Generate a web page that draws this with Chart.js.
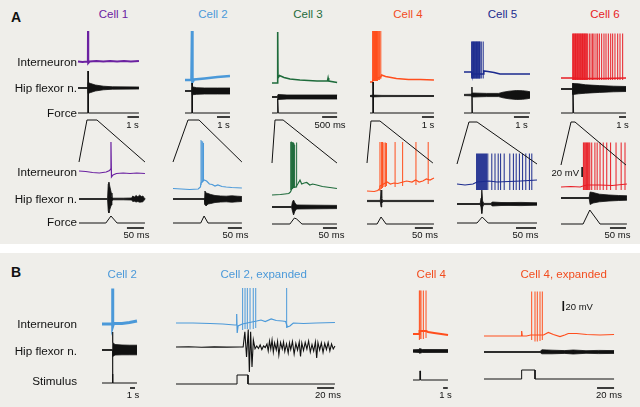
<!DOCTYPE html>
<html><head><meta charset="utf-8">
<script src="https://cdn.jsdelivr.net/npm/chart.js@4"></script>
<style>
html,body{margin:0;padding:0;background:#fff;}
#fig{position:relative;width:640px;height:407px;overflow:hidden;background:#fff;font-family:"Liberation Sans",Arial,Helvetica,sans-serif;}
.bg{position:absolute;left:0;width:640px;background:#efeeea;}
canvas{position:absolute;}
.t{position:absolute;white-space:nowrap;line-height:1;}
</style></head>
<body><div id="fig"><div class="bg" style="top:0;height:244px"></div><div class="bg" style="top:253px;height:154px"></div></div>
<script>
// ---------------- DATA ----------------
// Interneuron traces: [time, mV relative to rest]; nerve envelopes: [time, up µV, down µV];
// force / stimulus: [time, value]; spikes: [time, peak mV, trough mV]
// Panel A, top rows in s, bottom rows in ms
const c1TopVm = [[0,0],[0.4,-1],[0.8,0],[0.86,1],[0.87,61],[0.89,-3],[1.0,0],[1.6,1],[2.2,0],[2.8,1],[3.4,0],[4.0,1],[4.6,0],[5.3,1]];
const c1TopNerve = [[0,4,4],[0.86,4,4],[0.87,55,55],[1.1,45,45],[1.5,30,30],[2.2,18,18],[3.0,12,12],[5.3,10,10]];
const c1TopForce = [[0,0],[0.86,0],[0.87,42],[0.9,0],[5.3,0]];
const c1BotVm = [[0,2],[20,1],[40,-1],[60,-2],[80,0],[90,3],[93,6],[94,60],[95.5,-10],[100,-6],[110,-3],[130,-2],[150,-3],[170,-2],[194,-3]];
const c1BotNerve = [[0,4,4],[84,4,4],[86,150,120],[88,170,140],[91,120,100],[95,60,60],[97,20,20],[100,8,8],[130,8,8],[155,10,10],[158,30,25],[163,20,22],[168,35,30],[173,22,25],[178,38,32],[184,25,30],[188,30,28],[192,8,8],[194,4,4]];
const c1BotForce = [[0,0],[79,0],[94,7],[112,0],[194,0]];

const c2TopVm = [[0,0],[0.5,0],[0.54,98],[0.57,-4],[0.7,1],[1.5,3],[2.5,6],[3.46,8]];
const c2TopNerve = [[0,4,4],[0.53,4,4],[0.55,42,38],[0.9,33,33],[1.5,30,30],[2.5,30,30],[3.46,30,30]];
const c2TopForce = [[0,0],[0.53,0],[0.54,30],[0.57,0],[3.46,0]];
const c2BotVm = [[0,1],[30,0],[60,-1],[90,0],[98,4],[100,12],[111,18],[120,16],[130,10],[140,9],[150,6],[160,8],[175,5],[190,4],[210,3],[246,2]];
const c2BotSpikes = [[100,98,8],[103,96,12],[106,95,14],[109,92,16]];
const c2BotNerve = [[0,4,4],[112,4,4],[114,80,55],[118,60,70],[125,55,50],[135,45,45],[150,35,35],[170,30,30],[190,28,28],[210,32,32],[230,28,28],[246,25,25]];
const c2BotForce = [[0,0],[99,0],[111,7],[125,0],[246,0]];

const c3TopVm = [[0,0],[0.18,0],[0.19,102],[0.2,10],[0.25,15],[0.4,11],[0.6,8],[0.93,6],[1.5,4],[1.85,4],[1.87,10],[1.89,4],[2.17,1]];
const c3TopNerve = [[0,5,5],[0.18,5,5],[0.2,25,25],[0.5,20,20],[2.17,20,20]];
const c3TopForce = [[0,0],[0.18,0],[0.19,14],[0.21,0],[2.17,0]];
const c3BotVm = [[0,0],[30,1],[46,2],[60,3],[66,6],[72,14],[85,16],[92,22],[100,30],[106,22],[115,24],[124,25],[135,20],[145,22],[160,20],[180,17],[207,15],[232,13]];
const c3BotSpikes = [[67,106,10],[69,107,12],[71,106,12],[73,105,12],[75,106,14],[77,104,14],[79,103,15],[81,100,15],[88,105,15]];
const c3BotNerve = [[0,5,5],[70,5,5],[73,50,40],[77,70,80],[82,40,40],[88,20,20],[232,16,16]];
const c3BotForce = [[0,0],[64,0],[80,6],[88,5],[107,0],[232,0]];

const c4TopVm = [[0,0],[0.2,0],[0.25,4],[0.9,10],[0.97,14],[1.3,11],[2.2,7],[3.2,5],[4.2,5],[5.33,4]];
const c4TopSpikes = [[0.22,102,2],[0.26,102,2],[0.3,102,2],[0.34,102,2],[0.38,102,2],[0.42,102,2],[0.46,102,2],[0.5,102,2],[0.54,102,2],[0.58,102,2],[0.62,102,2],[0.7,102,4],[0.8,102,4],[0.9,102,6]];
const c4TopNerve = [[0,5,5],[0.25,9,9],[1,6,6],[5.33,5,5]];
const c4TopForce = [[0,0],[0.24,0],[0.25,31],[0.28,0],[5.33,0]];
const c4BotVm = [[0,0],[20,-1],[30,1],[34,4],[36,10],[56,18],[65,14],[75,16],[85,15],[95,17],[110,20],[125,18],[135,22],[145,18],[155,20],[165,24],[175,22],[186,26]];
const c4BotSpikes = [[36,98,0],[40,98,4],[43,98,6],[47,97,8],[51,97,8],[54,96,10],[78,98,8],[99,98,10],[136,98,12],[170,98,14]];
const c4BotNerve = [[0,6,6],[37,6,6],[39,110,60],[41,25,25],[44,6,6],[186,6,6]];
const c4BotForce = [[0,0],[28,0],[39,7],[53,0],[186,0]];

const c5TopVm = [[0,0],[0.5,0],[0.53,-4],[1.28,-4],[1.32,2],[1.6,1],[2.0,-1],[2.4,-4],[3.2,-4],[4.4,-4]];
const c5TopSpikes = [[0.51,61,-13],[0.55,61,-13],[0.59,61,-13],[0.63,61,-13],[0.67,61,-13],[0.71,61,-13],[0.75,61,-13],[0.79,61,-13],[0.83,61,-13],[0.87,61,-13],[0.91,61,-13],[0.95,61,-13],[0.99,61,-13],[1.03,61,-13],[1.07,61,-13],[1.15,61,-13],[1.28,61,-13]];
const c5TopNerve = [[0,6,6],[0.5,8,8],[0.55,20,20],[1.5,16,16],[2.3,16,16],[2.6,28,28],[3.0,38,38],[3.5,45,45],[3.9,43,43],[4.2,38,38],[4.4,32,32]];
const c5TopForce = [[0,0],[0.52,0],[0.53,26],[0.56,0],[4.4,0]];
const c5BotVm = [[0,0],[20,-2],[40,0],[50,4],[80,6],[100,4],[130,5],[160,6],[200,8]];
const c5BotSpikes = [[49,61,-12],[51.5,61,-12],[54,61,-12],[56.5,61,-12],[59,61,-12],[61.5,61,-12],[64,61,-12],[66.5,61,-12],[69,61,-12],[71.5,61,-12],[74,61,-12],[77,61,-12],[87,61,-12],[95,61,-12],[103,61,-12],[109,61,-12],[118,61,-12],[132,61,-12],[141,61,-12],[148,61,-12],[156,61,-12],[164,61,-12],[172,61,-12],[181,61,-12],[187,61,-12]];
const c5BotNerve = [[0,5,5],[58,5,5],[60,60,30],[62,140,95],[64,30,30],[67,6,6],[85,6,6],[88,20,20],[110,15,15],[130,14,14],[160,16,16],[200,12,12]];
const c5BotForce = [[0,0],[50,0],[63,6],[78,0],[200,0]];

const c6TopVm = [[0,0],[1.7,0],[3,-1],[6,-1],[9.29,0]];
const c6TopSpikes = [[1.67,89,-4],[1.77,89,-4],[1.87,89,-4],[1.97,89,-4],[2.07,89,-4],[2.17,89,-4],[2.27,89,-4],[2.37,89,-4],[2.47,89,-4],[2.57,89,-4],[2.67,89,-4],[2.77,89,-4],[2.87,89,-4],[2.97,89,-4],[3.07,89,-4],[3.17,89,-4],[3.27,89,-4],[3.37,89,-4],[3.47,89,-4],[3.57,89,-4],[3.67,89,-4],[3.81,89,-4],[4.05,89,-4],[4.29,89,-4],[4.52,89,-4],[4.71,89,-4],[5.0,89,-4],[5.24,89,-4],[5.48,89,-4],[5.81,89,-4],[6.14,89,-4],[6.43,89,-4],[6.76,89,-4],[7.1,89,-4],[7.38,89,-4],[7.71,89,-4],[8.1,89,-4],[8.43,89,-4],[8.81,89,-4]];
const c6TopNerve = [[0,5,5],[1.65,5,5],[1.7,55,55],[2.5,52,48],[3.5,42,42],[5.5,34,34],[7.5,28,28],[9.29,25,25]];
const c6TopForce = [[0,0],[1.68,0],[1.7,30],[1.8,0],[9.29,0]];
const c6BotVm = [[0,0],[30,1],[60,0],[69,2],[80,4],[120,4],[160,3],[206,6]];
const c6BotSpikes = [[70,89,-6],[72.5,89,-6],[75,89,-6],[77.5,89,-6],[80,89,-6],[82.5,89,-6],[85,89,-6],[87.5,89,-6],[90,89,-6],[96,89,-6],[106,89,-6],[113,89,-6],[122,89,-6],[132,89,-6],[143,89,-6],[155,89,-6],[172,89,-6],[188,89,-6],[200,89,-6]];
const c6BotNerve = [[0,5,5],[88,5,5],[91,60,65],[100,55,50],[120,38,38],[150,30,30],[180,25,25],[206,22,22]];
const c6BotForce = [[0,0],[69,0],[90,14],[122,0],[206,0]];

// Panel B (B1, B3 in s; B2, B4 in ms)
const b1Vm = [[0,0],[2.1,0],[2.13,71],[2.16,-4],[2.3,1],[4,1],[5.5,3],[6.5,5],[7,6]];
const b1Nerve = [[0,5,5],[2.12,5,5],[2.13,180,330],[2.15,75,65],[2.6,55,50],[4,50,48],[5.5,48,48],[7,48,48]];
const b1Stim = [[0,0],[2.12,0],[2.12,9],[2.15,9],[2.15,0],[7,0]];
const b2Vm = [[0,0],[20,0],[40,-1],[55,-2],[69,-4],[71,-4],[71.4,18],[72,-20],[73,-6],[78,-2],[95,4],[100,6],[105,3],[112,8],[118,5],[125,4],[129,3],[131,-8],[134,-6],[138,0],[150,-1],[165,0],[187,1]];
const b2Spikes = [[78.4,70,-14],[81.2,70,-12],[83.9,70,-12],[87.1,70,-13],[90.9,70,-12],[93.8,70,-10],[130.2,70,-10]];
const b2Nerve = [[0,0],[15,2],[30,-2],[45,1],[60,-1],[75,0],[79,0],[81,153],[83,-100],[85,174],[86.3,-250],[87.8,153],[89.4,-200],[91,70],[93,-17],[95,10],[97,-15],[99,20],[101,-25],[103,10],[105,-5],[107,30],[108.5,-40],[110,60],[111.5,-20],[113,70],[114.5,-50],[116,40],[118,-30],[119.5,55],[121,-80],[123,45],[125,-20],[126.5,50],[128,-45],[130,30],[132,-60],[133.5,40],[135,-25],[137,55],[139,-70],[141,35],[143,-30],[145,50],[146.5,-95],[148,40],[150,-35],[152,45],[154,-20],[156,60],[158,-50],[160,25],[162,-40],[164,50],[165.5,-110],[167,45],[169,-30],[171,40],[173,-55],[175,35],[177,-25],[179,45],[181,-40],[183,30],[185,-20],[187,10]];
const b2Stim = [[0,0],[71.8,0],[71.8,9],[84.7,9],[84.7,0],[187,0]];
const b3Vm = [[0,0],[1.3,0],[1.4,6],[2.8,6],[3.2,4],[4.5,2],[6,0],[7.45,-2]];
const b3Spikes = [[1.35,87,-12],[1.5,87,-10],[1.7,87,-10],[2.2,87,-10],[2.77,87,-8]];
const b3Nerve = [[0,12,12],[1.3,15,15],[1.4,25,22],[2,15,15],[7.45,14,14]];
const b3Stim = [[0,0],[1.45,0],[1.45,9],[1.6,9],[1.6,0],[7.45,0]];
const b4Vm = [[0,0],[20,0],[44,0],[44.3,10],[45,0],[50,0],[55,2],[70,2],[75.7,7],[81.6,3],[89.4,-1],[95,2],[99.2,5],[109,5],[120.8,3],[136.5,2],[153,3]];
const b4Spikes = [[56.1,89,-8],[60,89,-11],[62.7,89,-11],[65.9,89,-10],[68.6,89,-8]];
const b4Nerve = [[0,4,4],[66,4,4],[68,22,18],[80,18,18],[95,14,14],[105,20,20],[120,13,13],[135,16,16],[153,14,14]];
const b4Stim = [[0,0],[44.3,0],[44.3,9],[60,9],[60,0],[153,0]];

// text
const rowLabelsA = ['Interneuron','Hip flexor n.','Force'];
const rowLabelsB = ['Interneuron','Hip flexor n.','Stimulus'];
const titlesA = ['Cell 1','Cell 2','Cell 3','Cell 4','Cell 5','Cell 6'];
const titlesB = ['Cell 2','Cell 2, expanded','Cell 4','Cell 4, expanded'];
const scaleTopA = ['1 s','1 s','500 ms','1 s','1 s','1 s'];
const scaleBotA = ['50 ms','50 ms','50 ms','50 ms','50 ms','50 ms'];
const scaleB = ['1 s','20 ms','1 s','20 ms'];
const mvLabel = '20 mV';

// ---------------- STYLE / LAYOUT ----------------
const COL = {c1:'#6b21a1', c2:'#4b99d9', c3:'#1e6b3b', c4:'#ff4e1d', c5:'#1b2a8e', c6:'#e81d25', k:'#111111'};
const VG = 0.5, NG = 0.1, FG = 1; // px per unit
const fig = document.getElementById('fig');

function txt(s, x, y, o) {
  o = o || {};
  const d = document.createElement('div'); d.className = 't'; d.textContent = s;
  d.style.left = x + 'px'; d.style.top = y + 'px';
  d.style.fontSize = (o.size || 12) + 'px'; d.style.color = o.color || '#111';
  if (o.bold) d.style.fontWeight = 'bold';
  const tx = o.align === 'right' ? '-100%' : (o.align === 'left' ? '0' : '-50%');
  d.style.transform = 'translate(' + tx + ',-50%)';
  d.style.zIndex = 5;
  fig.appendChild(d);
}
const P = a => a.map(([x, y]) => ({x, y}));
function lineDS(pairs, xa, ya, color, w) {
  return {data: P(pairs), xAxisID: xa, yAxisID: ya, borderColor: color, borderWidth: w, fill: false, pointRadius: 0, spanGaps: false};
}
function spikeDS(list, xa, ya, color, w) {
  const d = [];
  list.forEach(([t, p, tr]) => { d.push({x: t, y: tr}, {x: t, y: p}, {x: t, y: null}); });
  return {data: d, xAxisID: xa, yAxisID: ya, borderColor: color, borderWidth: w || 1, fill: false, pointRadius: 0, spanGaps: false};
}
function bandDS(env, xa, ya, color) {
  return [
    {data: env.map(([t, u]) => ({x: t, y: u})), xAxisID: xa, yAxisID: ya, borderColor: color, borderWidth: 0.8, fill: false, pointRadius: 0},
    {data: env.map(([t, u, d]) => ({x: t, y: -d})), xAxisID: xa, yAxisID: ya, borderColor: color, borderWidth: 0.8, backgroundColor: color, fill: '-1', pointRadius: 0}
  ];
}
function decoPlugin(d, rect) {
  return {id: 'deco', afterDatasetsDraw(chart) {
    const ctx = chart.ctx, s = chart.scales;
    ctx.save(); ctx.strokeStyle = '#111'; ctx.lineCap = 'butt';
    (d.hbars || []).forEach(b => {
      const x1 = s[b.ax].getPixelForValue(b.t1), x2 = s[b.ax].getPixelForValue(b.t2), y = b.y - rect.y;
      ctx.lineWidth = 1.6; ctx.beginPath(); ctx.moveTo(x1, y); ctx.lineTo(x2, y); ctx.stroke();
    });
    (d.vbars || []).forEach(b => {
      const x = s[b.ax].getPixelForValue(b.t), y1 = s[b.ay].getPixelForValue(b.v1), y2 = s[b.ay].getPixelForValue(b.v2);
      ctx.lineWidth = 1.6; ctx.beginPath(); ctx.moveTo(x, y1); ctx.lineTo(x, y2); ctx.stroke();
    });
    if (d.conn) {
      const c = d.conn;
      const xa = s.xT.getPixelForValue(c.w0), xb = s.xT.getPixelForValue(c.w1);
      const xl = s.xB.getPixelForValue(0), xr = s.xB.getPixelForValue(c.bEnd);
      const yt = c.yT - rect.y, yb = c.yB - rect.y;
      ctx.lineWidth = 1; ctx.beginPath(); ctx.moveTo(xl, yb); ctx.lineTo(xa, yt); ctx.lineTo(xb, yt); ctx.lineTo(xr, yb); ctx.stroke();
    }
    ctx.restore();
  }};
}
function makeChart(rect, xAxes, yAxes, datasets, deco) {
  const cv = document.createElement('canvas');
  cv.width = rect.w; cv.height = rect.h;
  cv.style.left = rect.x + 'px'; cv.style.top = rect.y + 'px';
  cv.style.width = rect.w + 'px'; cv.style.height = rect.h + 'px';
  fig.appendChild(cv);
  const scales = {};
  Object.entries(xAxes).forEach(([id, a]) => {
    scales[id] = {type: 'linear', axis: 'x', position: 'bottom', display: false, bounds: 'data',
      min: (rect.x - a.x0) / a.k, max: (rect.x + rect.w - a.x0) / a.k};
  });
  Object.entries(yAxes).forEach(([id, a]) => {
    scales[id] = {type: 'linear', axis: 'y', position: 'left', display: false, bounds: 'data',
      max: (a.y0 - rect.y) / a.g, min: (a.y0 - rect.y - rect.h) / a.g};
  });
  new Chart(cv, {type: 'line', data: {datasets},
    options: {responsive: false, animation: false, devicePixelRatio: 1, events: [],
      layout: {padding: 0}, plugins: {legend: {display: false}, tooltip: {enabled: false}},
      elements: {point: {radius: 0}, line: {tension: 0}}, scales},
    plugins: [decoPlugin(deco, rect)]});
}

// ---------------- PANEL A ----------------
const cellsA = [
  {color: COL.c1, rect: {x: 70, y: 25, w: 82, h: 218}, xT: {x0: 78, k: 11.5}, xB: {x0: 79, k: 0.34}, yTop: [61.5, 88, 113], yBot: [172, 199, 223],
   tVm: c1TopVm, tSp: null, tN: c1TopNerve, tF: c1TopForce, bVm: c1BotVm, bSp: null, bN: c1BotNerve, bF: c1BotForce, vmW: 2,
   sbT: [4.3, 5.3], sbB: [141, 191], conn: {w0: 0.78, w1: 1.65, yT: 120, yB: 162, bEnd: 194}},
  {color: COL.c2, rect: {x: 165, y: 25, w: 85, h: 218}, xT: {x0: 185, k: 13}, xB: {x0: 173, k: 0.28}, yTop: [80, 91, 113], yBot: [189, 199, 223],
   tVm: c2TopVm, tSp: null, tN: c2TopNerve, tF: c2TopForce, bVm: c2BotVm, bSp: c2BotSpikes, bN: c2BotNerve, bF: c2BotForce, vmW: 2.6,
   sbT: [2.46, 3.46], sbB: [196, 246], conn: {w0: 0.23, w1: 1.08, yT: 120, yB: 162, bEnd: 246}},
  {color: COL.c3, rect: {x: 262, y: 25, w: 82, h: 218}, xT: {x0: 272, k: 30}, xB: {x0: 272, k: 0.28}, yTop: [83, 97, 113], yBot: [195, 207, 224],
   tVm: c3TopVm, tSp: null, tN: c3TopNerve, tF: c3TopForce, bVm: c3BotVm, bSp: c3BotSpikes, bN: c3BotNerve, bF: c3BotForce, vmW: 1.6,
   sbT: [1.67, 2.17], sbB: [182, 232], conn: {w0: 0.1, w1: 0.37, yT: 120, yB: 163, bEnd: 232}},
  {color: COL.c4, rect: {x: 358, y: 25, w: 84, h: 218}, xT: {x0: 370, k: 12}, xB: {x0: 367, k: 0.36}, yTop: [82, 96, 113], yBot: [191, 201, 224],
   tVm: c4TopVm, tSp: c4TopSpikes, tN: c4TopNerve, tF: c4TopForce, bVm: c4BotVm, bSp: c4BotSpikes, bN: c4BotNerve, bF: c4BotForce, vmW: 1.6,
   sbT: [4.33, 5.33], sbB: [133, 183], conn: {w0: 0.08, w1: 0.83, yT: 121, yB: 163, bEnd: 183}},
  {color: COL.c5, rect: {x: 450, y: 25, w: 95, h: 218}, xT: {x0: 464, k: 15}, xB: {x0: 457, k: 0.4}, yTop: [72, 95, 113], yBot: [184, 204, 223],
   tVm: c5TopVm, tSp: c5TopSpikes, tN: c5TopNerve, tF: c5TopForce, bVm: c5BotVm, bSp: c5BotSpikes, bN: c5BotNerve, bF: c5BotForce, vmW: 1.6,
   sbT: [3.33, 4.33], sbB: [147.5, 197.5], conn: {w0: 0.33, w1: 0.87, yT: 122, yB: 164, bEnd: 200}},
  {color: COL.c6, rect: {x: 548, y: 25, w: 88, h: 218}, xT: {x0: 561, k: 7}, xB: {x0: 561, k: 0.32}, yTop: [78, 89, 113], yBot: [187, 198, 224],
   tVm: c6TopVm, tSp: c6TopSpikes, tN: c6TopNerve, tF: c6TopForce, bVm: c6BotVm, bSp: c6BotSpikes, bN: c6BotNerve, bF: c6BotForce, vmW: 1.6,
   sbT: [8.29, 9.29], sbB: [153, 203], conn: {w0: 1.43, w1: 2.0, yT: 122, yB: 165, bEnd: 203}, vbar: {t: 66, v1: 20, v2: 40}}
];
cellsA.forEach(c => {
  let ds = [];
  ds = ds.concat(bandDS(c.tN, 'xT', 'yNt', COL.k));
  ds.push(lineDS(c.tF, 'xT', 'yFt', COL.k, 1));
  ds.push(lineDS(c.tVm, 'xT', 'yVt', c.color, c.vmW));
  if (c.tSp) ds.push(spikeDS(c.tSp, 'xT', 'yVt', c.color, 1));
  ds = ds.concat(bandDS(c.bN, 'xB', 'yNb', COL.k));
  ds.push(lineDS(c.bF, 'xB', 'yFb', COL.k, 1));
  ds.push(lineDS(c.bVm, 'xB', 'yVb', c.color, 1.2));
  if (c.bSp) ds.push(spikeDS(c.bSp, 'xB', 'yVb', c.color, 1));
  const deco = {hbars: [{ax: 'xT', t1: c.sbT[0], t2: c.sbT[1], y: 117}, {ax: 'xB', t1: c.sbB[0], t2: c.sbB[1], y: 228}],
    vbars: c.vbar ? [{ax: 'xB', ay: 'yVb', t: c.vbar.t, v1: c.vbar.v1, v2: c.vbar.v2}] : [], conn: c.conn};
  makeChart(c.rect, {xT: c.xT, xB: c.xB},
    {yVt: {y0: c.yTop[0], g: VG}, yNt: {y0: c.yTop[1], g: NG}, yFt: {y0: c.yTop[2], g: FG},
     yVb: {y0: c.yBot[0], g: VG}, yNb: {y0: c.yBot[1], g: NG}, yFb: {y0: c.yBot[2], g: FG}}, ds, deco);
});

// ---------------- PANEL B ----------------
const cellsB = [
  {color: COL.c2, rect: {x: 96, y: 280, w: 50, h: 118}, x: {x0: 102, k: 5}, y: [324, 350, 383], vm: b1Vm, vmW: 3, sp: null, nEnv: b1Nerve, nLine: null, st: b1Stim, sb: [5.6, 6.6]},
  {color: COL.c2, rect: {x: 170, y: 280, w: 172, h: 118}, x: {x0: 176, k: 0.85}, y: [323, 347, 384], vm: b2Vm, vmW: 1.2, sp: b2Spikes, nEnv: null, nLine: b2Nerve, st: b2Stim, sb: [166, 186]},
  {color: COL.c4, rect: {x: 405, y: 280, w: 50, h: 118}, x: {x0: 413, k: 4.7}, y: [334, 351, 380], vm: b3Vm, vmW: 2, sp: b3Spikes, nEnv: b3Nerve, nLine: null, st: b3Stim, sb: [6.4, 7.4]},
  {color: COL.c4, rect: {x: 478, y: 280, w: 145, h: 118}, x: {x0: 484, k: 0.85}, y: [336, 352, 379], vm: b4Vm, vmW: 1.2, sp: b4Spikes, nEnv: b4Nerve, nLine: null, st: b4Stim, sb: [133, 153], vbar: {t: 93.3, v1: 50, v2: 70}}
];
cellsB.forEach(c => {
  let ds = [];
  if (c.nEnv) ds = ds.concat(bandDS(c.nEnv, 'xT', 'yN', COL.k));
  if (c.nLine) ds.push(lineDS(c.nLine, 'xT', 'yN', COL.k, 1.1));
  ds.push(lineDS(c.st, 'xT', 'yS', COL.k, 1));
  ds.push(lineDS(c.vm, 'xT', 'yV', c.color, c.vmW));
  if (c.sp) ds.push(spikeDS(c.sp, 'xT', 'yV', c.color, 1));
  const deco = {hbars: [{ax: 'xT', t1: c.sb[0], t2: c.sb[1], y: 388}],
    vbars: c.vbar ? [{ax: 'xT', ay: 'yV', t: c.vbar.t, v1: c.vbar.v1, v2: c.vbar.v2}] : []};
  makeChart(c.rect, {xT: c.x}, {yV: {y0: c.y[0], g: VG}, yN: {y0: c.y[1], g: NG}, yS: {y0: c.y[2], g: FG}}, ds, deco);
});

// ---------------- TEXT ----------------
txt('A', 11, 17, {size: 14, bold: true, align: 'left'});
txt('B', 11, 272, {size: 14, bold: true, align: 'left'});
const titleXA = [113.5, 213, 308, 408, 502.5, 605];
const titleColA = [COL.c1, COL.c2, COL.c3, '#f24c1e', COL.c5, COL.c6];
titlesA.forEach((s, i) => txt(s, titleXA[i], 15, {size: 11.5, color: titleColA[i]}));
[61.5, 88, 113].forEach((y, i) => txt(rowLabelsA[i], 77, y, {size: 11.7, align: 'right'}));
[172, 199, 222].forEach((y, i) => txt(rowLabelsA[i], 77, y, {size: 11.7, align: 'right'}));
const sbTopX = [132.5, 223.5, 330, 428, 521.5, 622.5];
const sbBotX = [136.5, 235.5, 331.5, 425, 525.5, 617.5];
scaleTopA.forEach((s, i) => txt(s, sbTopX[i], 124.5, {size: 9.5}));
scaleBotA.forEach((s, i) => txt(s, sbBotX[i], 235, {size: 9.5}));
txt(mvLabel, 579, 173, {size: 9.5, align: 'right'});
const titleXB = [122.3, 263.7, 431.3, 563.7];
const titleColB = [COL.c2, COL.c2, '#f24c1e', '#f24c1e'];
titlesB.forEach((s, i) => txt(s, titleXB[i], 274.5, {size: 11.5, color: titleColB[i]}));
[324, 351, 381].forEach((y, i) => txt(rowLabelsB[i], 77, y, {size: 11.7, align: 'right'}));
const sbBX = [133, 328, 445.5, 609];
scaleB.forEach((s, i) => txt(s, sbBX[i], 395, {size: 9.5}));
txt(mvLabel, 565.5, 307, {size: 9.5, align: 'left'});
</script></body></html>
